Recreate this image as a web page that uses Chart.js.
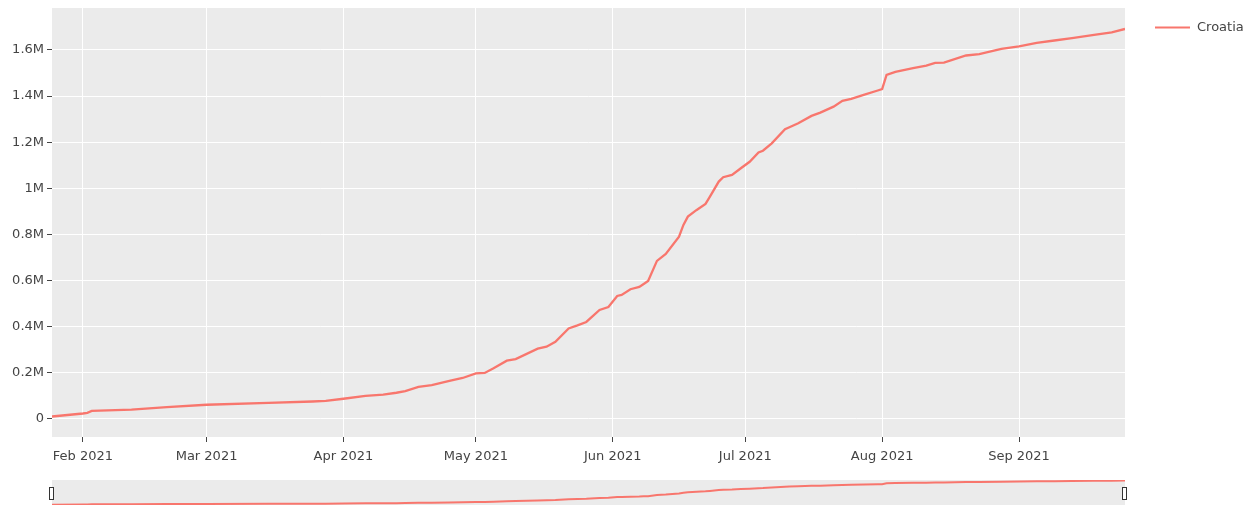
<!DOCTYPE html>
<html>
<head>
<meta charset="utf-8">
<script src="https://cdn.jsdelivr.net/npm/chart.js@4.4.1/dist/chart.umd.min.js"></script>
<style>
  body { margin: 0; background: #fff; }
  #main { position: absolute; left: 0; top: 0; }
  #slider { position: absolute; left: 0; top: 480px; }
</style>
</head>
<body>
<canvas id="main" width="1258" height="470"></canvas>
<canvas id="slider" width="1258" height="25"></canvas>
<script>
// cumulative doses, Croatia
const seriesName = 'Croatia'
const dates = [
  '2021-01-25', '2021-02-01', '2021-02-02', '2021-02-03', '2021-02-12', '2021-02-20',
  '2021-03-01', '2021-03-15', '2021-03-25', '2021-03-28', '2021-04-01', '2021-04-06',
  '2021-04-10', '2021-04-13', '2021-04-15', '2021-04-18', '2021-04-21', '2021-04-25',
  '2021-04-28', '2021-05-01', '2021-05-03', '2021-05-05', '2021-05-08', '2021-05-10',
  '2021-05-15', '2021-05-17', '2021-05-19', '2021-05-22', '2021-05-24', '2021-05-26',
  '2021-05-29', '2021-05-31', '2021-06-02', '2021-06-03', '2021-06-05', '2021-06-07',
  '2021-06-08', '2021-06-09', '2021-06-11', '2021-06-13', '2021-06-16', '2021-06-17',
  '2021-06-18', '2021-06-20', '2021-06-22', '2021-06-23', '2021-06-25', '2021-06-26',
  '2021-06-28', '2021-06-30', '2021-07-02', '2021-07-04', '2021-07-05', '2021-07-07',
  '2021-07-10', '2021-07-11', '2021-07-13', '2021-07-16', '2021-07-18', '2021-07-21',
  '2021-07-23', '2021-07-25', '2021-07-28', '2021-07-31', '2021-08-01', '2021-08-02',
  '2021-08-04', '2021-08-08', '2021-08-11', '2021-08-13', '2021-08-15', '2021-08-20',
  '2021-08-23', '2021-08-28', '2021-09-01', '2021-09-05', '2021-09-09', '2021-09-13',
  '2021-09-18', '2021-09-22', '2021-09-25'
]
const doses = [
  10000, 23000, 26000, 34000, 40000, 51000,
  61000, 69000, 75000, 78000, 87000, 99000,
  105000, 113000, 120000, 138000, 146000, 164000,
  177000, 197000, 199000, 219000, 252000, 259000,
  304000, 313000, 334000, 392000, 405000, 420000,
  472000, 485000, 533000, 537000, 562000, 572000,
  585000, 598000, 685000, 715000, 790000, 841000,
  877000, 906000, 932000, 964000, 1029000, 1048000,
  1058000, 1087000, 1115000, 1155000, 1163000, 1195000,
  1256000, 1265000, 1282000, 1314000, 1328000, 1354000,
  1379000, 1388000, 1406000, 1424000, 1430000, 1492000,
  1505000, 1521000, 1532000, 1544000, 1545000, 1576000,
  1582000, 1605000, 1616000, 1631000, 1641000, 1651000,
  1665000, 1676000, 1691000
]
const xTickDates = ['2021-02-01', '2021-03-01', '2021-04-01', '2021-05-01', '2021-06-01', '2021-07-01', '2021-08-01', '2021-09-01']
const xTickLabels = ['Feb 2021', 'Mar 2021', 'Apr 2021', 'May 2021', 'Jun 2021', 'Jul 2021', 'Aug 2021', 'Sep 2021']
const yTicks = [0, 200000, 400000, 600000, 800000, 1000000, 1200000, 1400000, 1600000]
const yTickLabels = ['0', '0.2M', '0.4M', '0.6M', '0.8M', '1M', '1.2M', '1.4M', '1.6M']

const startDate = '2021-01-25'
function dayOf(d){
  return (Date.parse(d) - Date.parse(startDate)) / 86400000
}
const points = dates.map((d, i) => ({x: dayOf(d), y: doses[i]}))
const xTickDays = xTickDates.map(dayOf)

const lineColor = '#F8766D'
const panel = '#EBEBEB'
const font = {family: '"DejaVu Sans", Verdana, sans-serif', size: 13}

const panelBg = {
  id: 'panelBg',
  beforeDraw(chart){
    const a = chart.chartArea, ctx = chart.ctx
    ctx.save()
    ctx.fillStyle = panel
    ctx.fillRect(a.left, a.top, a.right - a.left, a.bottom - a.top)
    ctx.restore()
  }
}

const legendDraw = {
  id: 'legendDraw',
  afterDraw(chart){
    const ctx = chart.ctx
    ctx.save()
    ctx.strokeStyle = lineColor
    ctx.lineWidth = 2
    ctx.beginPath()
    ctx.moveTo(1155, 27.5)
    ctx.lineTo(1190, 27.5)
    ctx.stroke()
    ctx.fillStyle = '#444'
    ctx.font = '13px "DejaVu Sans", Verdana, sans-serif'
    ctx.textBaseline = 'middle'
    ctx.fillText(chart.data.datasets[0].label, 1197, 28)
    ctx.restore()
  }
}

new Chart('main', {
  type: 'line',
  data: {
    datasets: [{
      label: seriesName,
      data: points,
      borderColor: lineColor,
      borderWidth: 2.3,
      pointRadius: 0,
      tension: 0,
      fill: false
    }]
  },
  options: {
    responsive: false,
    animation: false,
    devicePixelRatio: 1,
    layout: {padding: {left: 0, right: 133, top: 8, bottom: 0}},
    plugins: {legend: {display: false}, tooltip: {enabled: false}},
    scales: {
      x: {
        type: 'linear',
        min: 0,
        max: 243,
        afterBuildTicks: s => { s.ticks = xTickDays.map(v => ({value: v})) },
        afterFit: s => { s.height = 33; s.paddingLeft = 0; s.paddingRight = 0 },
        ticks: {
          callback: v => xTickLabels[xTickDays.indexOf(v)],
          font: font, color: '#444', padding: 7, maxRotation: 0, autoSkip: false
        },
        grid: {color: '#fff', lineWidth: 1, tickColor: '#444', tickLength: 5},
        border: {display: false}
      },
      y: {
        min: -79000,
        max: 1782000,
        afterBuildTicks: s => { s.ticks = yTicks.map(v => ({value: v})) },
        afterFit: s => { s.width = 52; s.paddingTop = 0; s.paddingBottom = 0 },
        ticks: {
          callback: v => yTickLabels[yTicks.indexOf(v)],
          font: font, color: '#444', padding: 3
        },
        grid: {color: '#fff', lineWidth: 1, tickColor: '#444', tickLength: 5},
        border: {display: false}
      }
    }
  },
  plugins: [panelBg, legendDraw]
})

// range slider underneath
const handles = {
  id: 'handles',
  afterDraw(chart){
    const a = chart.chartArea, ctx = chart.ctx
    ctx.save()
    ctx.fillStyle = '#fff'
    ctx.strokeStyle = '#333'
    ctx.lineWidth = 1
    ;[a.left, a.right].forEach(x => {
      ctx.fillRect(x - 2.5, 7.5, 4, 12)
      ctx.strokeRect(x - 2.5, 7.5, 4, 12)
    })
    ctx.restore()
  }
}

new Chart('slider', {
  type: 'line',
  data: {
    datasets: [{
      label: seriesName,
      data: points,
      borderColor: lineColor,
      borderWidth: 2,
      pointRadius: 0,
      tension: 0,
      fill: false
    }]
  },
  options: {
    responsive: false,
    animation: false,
    devicePixelRatio: 1,
    layout: {padding: {left: 52, right: 133, top: 0, bottom: 0}},
    plugins: {legend: {display: false}, tooltip: {enabled: false}},
    scales: {
      x: {type: 'linear', min: 0, max: 243, display: false},
      y: {min: -15000, max: 1720000, display: false}
    }
  },
  plugins: [panelBg, handles]
})
</script>
</body>
</html>
